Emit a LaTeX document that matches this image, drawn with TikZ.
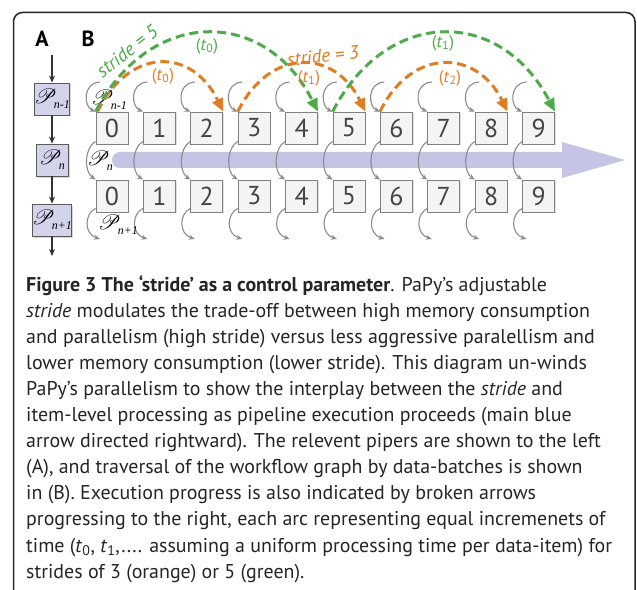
\documentclass[tikz,border=0pt]{standalone}
\usepackage{fontspec}
\setmainfont{PT Sans}
\newfontfamily\subfont{Liberation Serif}
\usepackage{mathrsfs}
\usetikzlibrary{arrows.meta,shadows}
\definecolor{grn}{HTML}{4DAB4A}
\definecolor{org}{HTML}{E07D22}
\definecolor{band}{HTML}{C4C4E4}
\definecolor{hook}{HTML}{8C8C8C}
\definecolor{boxfill}{HTML}{F3F4F3}
\definecolor{pfill}{HTML}{D3D3EC}
\definecolor{numtxt}{HTML}{444444}
\definecolor{captxt}{HTML}{252525}
\newcommand{\pscr}[1]{{\fontsize{21}{21}\selectfont$\mathscr{P}$}\kern-3bp\raisebox{-5bp}{\fontsize{12}{12}\selectfont\subfont\itshape #1}}
\newcommand{\tlab}[1]{(\textit{t}\textsubscript{#1})}
\begin{document}
\begin{tikzpicture}[x=1bp,y=1bp,
  numbox/.style={draw=black!50, line width=0.8bp, fill=boxfill, minimum size=32bp, inner sep=0pt,
    font=\fontsize{26}{26}\selectfont, text=numtxt,
    drop shadow={shadow xshift=1.2bp, shadow yshift=-1.2bp, opacity=0.25}},
  pbox/.style={draw=black!65, line width=0.9bp, fill=pfill, minimum size=32bp, inner sep=0pt,
    drop shadow={shadow xshift=1.5bp, shadow yshift=-1.5bp, opacity=0.3}},
  hookline/.style={draw=hook, line width=1.1bp, -{Stealth[length=6bp,width=5bp]}},
  garc/.style={draw=grn, line width=3bp, dash pattern=on 9bp off 5bp, -{Triangle[length=13bp,width=11bp]}},
  oarc/.style={draw=org, line width=3bp, dash pattern=on 9bp off 5bp, -{Triangle[length=13bp,width=11bp]}},
  acol/.style={draw=black!80, line width=1.1bp, -{Stealth[length=7bp,width=6bp]}},
  captext/.style={anchor=base west, inner sep=0pt, text=captxt, font=\fontsize{20}{24}\selectfont},
  tl/.style={font=\fontsize{17}{17}\selectfont, inner sep=0pt},
  sl/.style={font=\itshape\fontsize{19}{19}\selectfont, inner sep=0pt}
]
\useasboundingbox (0,0) rectangle (637,-590);
\clip (0,0) rectangle (637,-590);
\fill[white] (0,0) rectangle (637,-590);
% frame
\draw[line width=1.5bp, draw=black!85, rounded corners=9bp] (13.5,-640) -- (13.5,-12.5) -- (635,-12.5) -- (635,-640);

% panel labels
\node[font=\bfseries\fontsize{22}{22}\selectfont, inner sep=0pt] (A) at (42,-39) {A};
\node[font=\bfseries\fontsize{22}{22}\selectfont, inner sep=0pt] (B) at (88,-39) {B};

% column A
\node[pbox] (pa) at (52,-99) {\pscr{n-1}};
\node[pbox] (pb) at (52,-160) {\pscr{n}};
\node[pbox] (pc) at (52,-220) {\pscr{n+1}};
\coordinate (ain) at (52,-55);
\coordinate (aout) at (52,-256);
\draw[acol] (ain) -- (pa);
\draw[acol] (pa) -- (pb);
\draw[acol, line width=2.2bp] (pb) -- (pc);
\draw[acol] (pc) -- (aout);

% main blue arrow
\fill[band] (120,-152) -- (562,-152) -- (562,-142) -- (625,-160) -- (562,-178) -- (562,-168) -- (120,-168) arc (270:90:8) -- cycle;

% data-item boxes
\foreach \i in {0,...,9}{
  \pgfmathsetmacro\L{96+47.4*\i}
  \node[numbox] (t\i) at (\L+16,-128) {\i};
  \node[numbox] (b\i) at (\L+16,-196) {\i};
}
% item-level hooks
\foreach \i in {0,...,9}{
  \pgfmathsetmacro\L{96+47.4*\i}
  \coordinate (hs\i) at (\L+4,-82);
  \coordinate (he\i) at (\L+4,-239);
  \draw[hookline] (hs\i) .. controls (\L-14,-83) and (\L-12,-107) .. (t\i.north west);
  \draw[hookline] ([yshift=3bp]t\i.south west) .. controls (\L-12,-148) and (\L-12,-172) .. (b\i.north west);
  \draw[hookline] ([yshift=4bp]b\i.south west) .. controls (\L-12,-214) and (\L-12,-234) .. (he\i);
}

% piper labels
\node[inner sep=0pt] (lp1) at (109,-100) {\pscr{n-1}};
\node[inner sep=0pt] (lp2) at (100,-161) {\pscr{n}};
\node[inner sep=0pt] (lp3) at (118,-225) {\pscr{n+1}};

% stride arcs
\draw[oarc] ([xshift=2bp]t0.north west) .. controls (129,-47) and (192,-47) .. (t2.north east);
\draw[oarc] (t3.north west) .. controls (269,-48) and (334,-48) .. (t5.north east);
\draw[oarc] (t6.north west) .. controls (411,-48) and (476,-48) .. (t8.north east);
\draw[garc] (t0.north west) .. controls (150,-7) and (265,-7) .. (t4.north east);
\draw[garc] (t5.north west) .. controls (387,-7) and (500,-7) .. (t9.north east);

% arc labels
\node[sl, text=grn, rotate=38] (s5) at (127,-51) {stride = 5};
\node[sl, text=org, rotate=6] (s3) at (323,-56) {stride = 3};
\node[tl, text=grn] (g0) at (207,-46) {\tlab{0}};
\node[tl, text=grn] (g1) at (443,-43) {\tlab{1}};
\node[tl, text=org] (o0) at (163,-76) {\tlab{0}};
\node[tl, text=org] (o1) at (309,-78) {\tlab{1}};
\node[tl, text=org] (o2) at (450,-78) {\tlab{2}};

% caption
\node[captext] (c1) at (26,-291) {\textbf{Figure 3 The ‘stride’ as a control parameter}. PaPy’s adjustable};
\node[captext] (c2) at (26,-317.1) {\textit{stride} modulates the trade-off between high memory consumption};
\node[captext] (c3) at (26,-343.2) {and parallelism (high stride) versus less aggressive paralellism and};
\node[captext] (c4) at (26,-369.3) {lower memory consumption (lower stride). This diagram un-winds};
\node[captext] (c5) at (26,-395.4) {PaPy’s parallelism to show the interplay between the \textit{stride} and};
\node[captext] (c6) at (26,-421.5) {item-level processing as pipeline execution proceeds (main blue};
\node[captext] (c7) at (26,-447.6) {arrow directed rightward). The relevent pipers are shown to the left};
\node[captext] (c8) at (26,-473.7) {(A), and traversal of the workflow graph by data-batches is shown};
\node[captext] (c9) at (26,-499.8) {in (B). Execution progress is also indicated by broken arrows};
\node[captext] (c10) at (26,-525.9) {progressing to the right, each arc representing equal incremenets of};
\node[captext] (c11) at (26,-552) {time (\textit{t}\textsubscript{0}, \textit{t}\textsubscript{1},.... assuming a uniform processing time per data-item) for};
\node[captext] (c12) at (26,-578.1) {strides of 3 (orange) or 5 (green).};
\end{tikzpicture}
\end{document}
